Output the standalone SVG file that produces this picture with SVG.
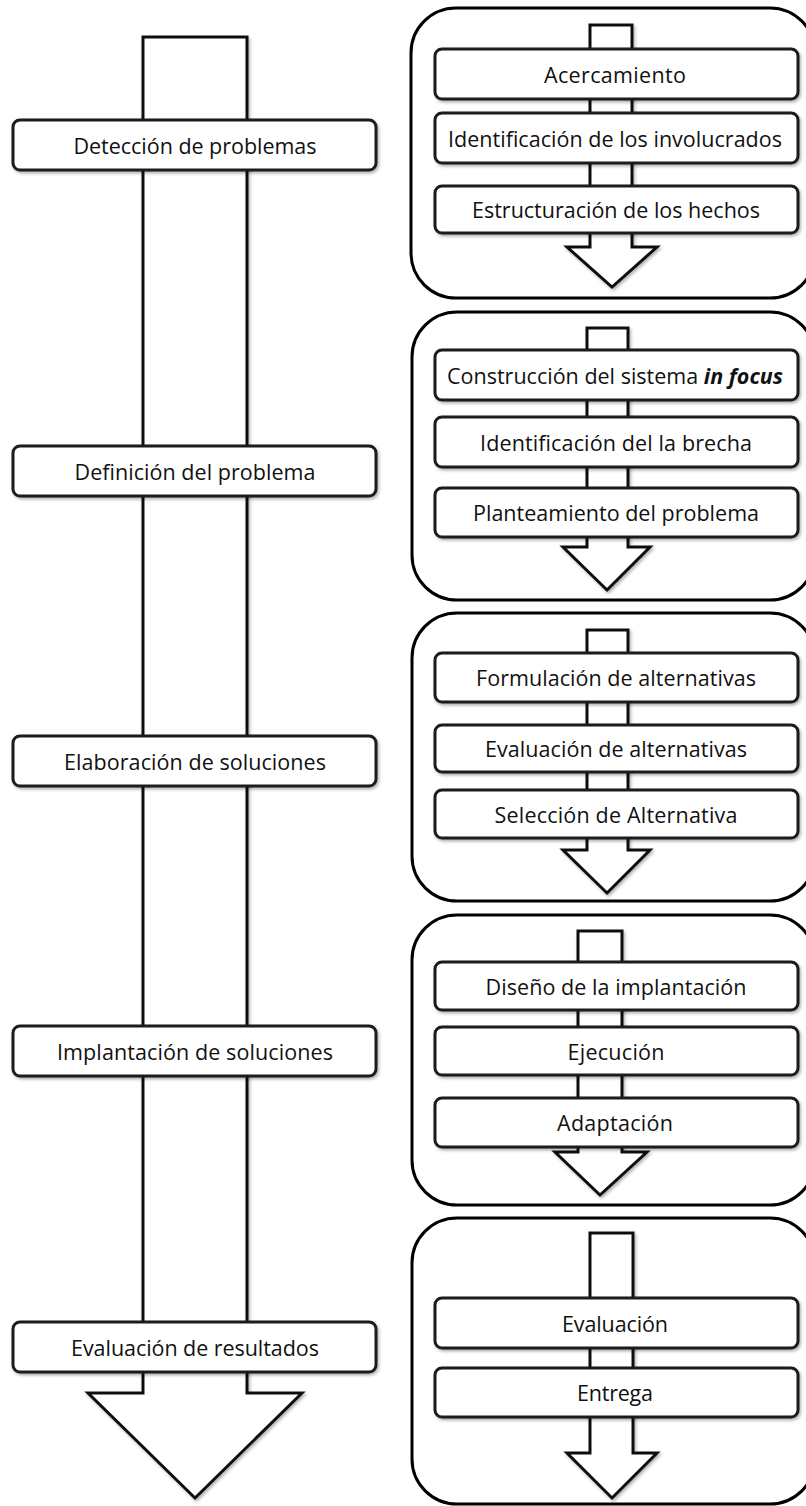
<svg xmlns="http://www.w3.org/2000/svg" width="806" height="1506" viewBox="0 0 806 1506">
  <defs>
    <filter id="shadow" x="-10%" y="-10%" width="120%" height="130%">
      <feDropShadow dx="1.5" dy="2" stdDeviation="1.5" flood-color="#000" flood-opacity="0.3"/>
    </filter>
  </defs>
  <style>
    .panel { fill: #fff; stroke: #000; stroke-width: 3; }
    .arrow { fill: #fff; stroke: #111; stroke-width: 3; stroke-linejoin: miter; filter: url(#shadow); }
    .box { fill: #fff; stroke: #1a1a1a; stroke-width: 3; filter: url(#shadow); }
    .lbl { font-family: "Open Sans", "Liberation Sans", sans-serif; font-size: 21.5px; fill: #111; text-anchor: middle; }
    .em { font-weight: bold; font-style: italic; }
  </style>
  <rect width="806" height="1506" fill="#fff"/>

  <!-- main process arrow -->
  <g id="connectors">
    <polygon class="arrow" points="143,37 247,37 247,1393 302,1393 195,1498 88,1393 143,1393"/>
  </g>

  <!-- main stages -->
  <g id="stage-deteccion">
    <rect class="box" x="13" y="120" width="363" height="50" rx="7"/>
    <text class="lbl" x="195" y="154" textLength="243">Detección de problemas</text>
  </g>
  <g id="stage-definicion">
    <rect class="box" x="13" y="446" width="363" height="50" rx="7"/>
    <text class="lbl" x="195" y="480" textLength="241">Definición del problema</text>
  </g>
  <g id="stage-elaboracion">
    <rect class="box" x="13" y="736" width="363" height="50" rx="7"/>
    <text class="lbl" x="195" y="770" textLength="262">Elaboración de soluciones</text>
  </g>
  <g id="stage-implantacion">
    <rect class="box" x="13" y="1026" width="363" height="50" rx="7"/>
    <text class="lbl" x="195" y="1060" textLength="276">Implantación de soluciones</text>
  </g>
  <g id="stage-evaluacion">
    <rect class="box" x="13" y="1322" width="363" height="50" rx="7"/>
    <text class="lbl" x="195" y="1356" textLength="248">Evaluación de resultados</text>
  </g>

  <!-- detail panel 1 -->
  <g id="panel-deteccion">
    <rect class="panel" x="411" y="8" width="404" height="290" rx="45"/>
    <polygon class="arrow" points="590,25 632,25 632,247 657,247 612,287 567,247 590,247"/>
    <g id="acercamiento">
      <rect class="box" x="435" y="49" width="363" height="50" rx="7"/>
      <text class="lbl" x="615" y="82.5" textLength="142">Acercamiento</text>
    </g>
    <g id="identificacion-involucrados">
      <rect class="box" x="435" y="113" width="363" height="50" rx="7"/>
      <text class="lbl" x="615" y="146.5" textLength="334">Identificación de los involucrados</text>
    </g>
    <g id="estructuracion">
      <rect class="box" x="435" y="186" width="363" height="47" rx="7"/>
      <text class="lbl" x="616" y="218" textLength="288">Estructuración de los hechos</text>
    </g>
  </g>

  <!-- detail panel 2 -->
  <g id="panel-definicion">
    <rect class="panel" x="412" y="312" width="403" height="288" rx="45"/>
    <polygon class="arrow" points="587,328 628,328 628,547 650,547 607,590 563,547 587,547"/>
    <g id="construccion">
      <rect class="box" x="435" y="350" width="363" height="50" rx="7"/>
      <text class="lbl" x="615" y="383.5" textLength="336">Construcción del sistema <tspan class="em">in focus</tspan></text>
    </g>
    <g id="identificacion-brecha">
      <rect class="box" x="435" y="417" width="363" height="50" rx="7"/>
      <text class="lbl" x="616" y="450.5" textLength="272">Identificación del la brecha</text>
    </g>
    <g id="planteamiento">
      <rect class="box" x="435" y="488" width="363" height="49" rx="7"/>
      <text class="lbl" x="616" y="521" textLength="286">Planteamiento del problema</text>
    </g>
  </g>

  <!-- detail panel 3 -->
  <g id="panel-elaboracion">
    <rect class="panel" x="412" y="613" width="403" height="288" rx="45"/>
    <polygon class="arrow" points="587,630 628,630 628,850 650,850 607,893 563,850 587,850"/>
    <g id="formulacion">
      <rect class="box" x="435" y="653" width="363" height="49" rx="7"/>
      <text class="lbl" x="616" y="686" textLength="280">Formulación de alternativas</text>
    </g>
    <g id="evaluacion-alternativas">
      <rect class="box" x="435" y="725" width="363" height="47" rx="7"/>
      <text class="lbl" x="616" y="757" textLength="262">Evaluación de alternativas</text>
    </g>
    <g id="seleccion">
      <rect class="box" x="435" y="790" width="363" height="48" rx="7"/>
      <text class="lbl" x="616" y="822.5" textLength="243">Selección de Alternativa</text>
    </g>
  </g>

  <!-- detail panel 4 -->
  <g id="panel-implantacion">
    <rect class="panel" x="412" y="915" width="403" height="290" rx="45"/>
    <polygon class="arrow" points="578,931 622,931 622,1152 647,1152 600,1195 555,1152 578,1152"/>
    <g id="diseno">
      <rect class="box" x="435" y="962" width="363" height="48" rx="7"/>
      <text class="lbl" x="616" y="994.5" textLength="261">Diseño de la implantación</text>
    </g>
    <g id="ejecucion">
      <rect class="box" x="435" y="1027" width="363" height="48" rx="7"/>
      <text class="lbl" x="616" y="1059.5" textLength="97">Ejecución</text>
    </g>
    <g id="adaptacion">
      <rect class="box" x="435" y="1098" width="363" height="49" rx="7"/>
      <text class="lbl" x="615" y="1131" textLength="116">Adaptación</text>
    </g>
  </g>

  <!-- detail panel 5 -->
  <g id="panel-evaluacion">
    <rect class="panel" x="412" y="1218" width="403" height="286" rx="45"/>
    <polygon class="arrow" points="590,1233 633,1233 633,1453 657,1453 612,1498 567,1453 590,1453"/>
    <g id="evaluacion">
      <rect class="box" x="435" y="1298" width="363" height="50" rx="7"/>
      <text class="lbl" x="615" y="1331.5" textLength="106">Evaluación</text>
    </g>
    <g id="entrega">
      <rect class="box" x="435" y="1368" width="363" height="49" rx="7"/>
      <text class="lbl" x="615" y="1401" textLength="76">Entrega</text>
    </g>
  </g>
</svg>
